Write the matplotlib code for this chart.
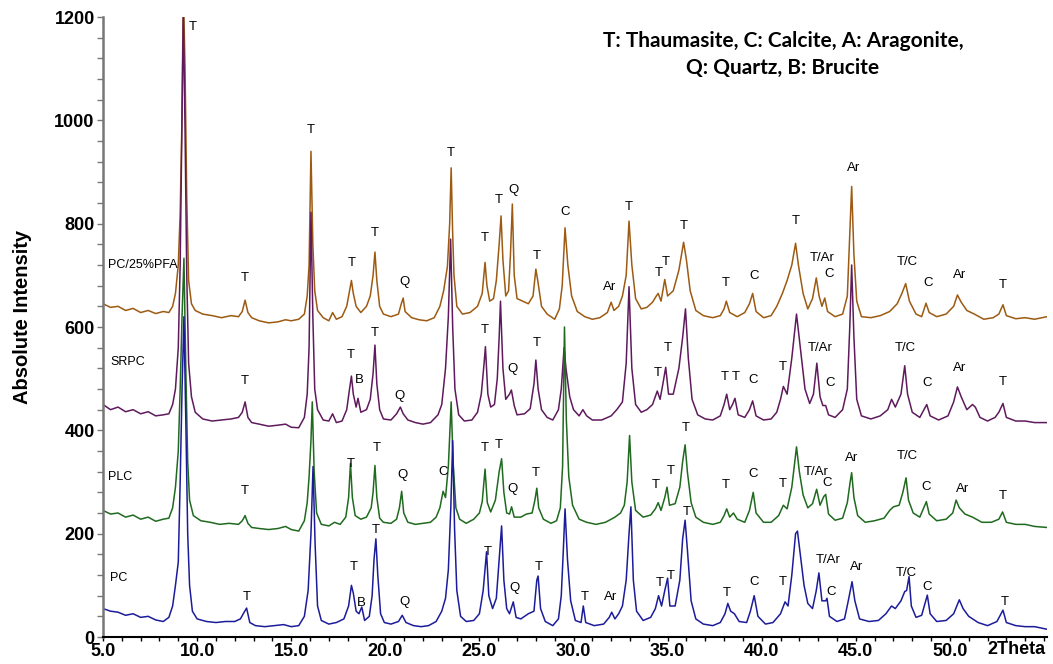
import matplotlib
matplotlib.use("Agg")
import matplotlib.pyplot as plt
from matplotlib.ticker import MultipleLocator, FixedLocator

# --- data (2theta in degrees, absolute counts) ---

PFA_2THETA = [5.0, 5.4, 5.8, 6.2, 6.6, 7.0, 7.4, 7.8, 8.2, 8.5, 8.7, 8.85, 9.0, 9.1, 9.18, 9.27, 9.36, 9.45,
              9.55, 9.7, 9.9, 10.3, 10.8, 11.3, 11.8, 12.2, 12.4, 12.55, 12.7, 12.9, 13.3, 13.8, 14.3, 14.7,
              15.0, 15.4, 15.7, 15.85, 15.95, 16.05, 16.15, 16.25, 16.4, 16.7, 17.0, 17.2, 17.4, 17.7, 17.95,
              18.1, 18.2, 18.3, 18.45, 18.7, 19.0, 19.2, 19.35, 19.45, 19.55, 19.7, 19.9, 20.3, 20.7, 20.85,
              20.95, 21.05, 21.4, 21.8, 22.2, 22.6, 22.9, 23.1, 23.3, 23.42, 23.5, 23.58, 23.65, 23.8, 24.1,
              24.5, 24.9, 25.15, 25.3, 25.4, 25.55, 25.75, 25.9, 26.05, 26.15, 26.25, 26.4, 26.55, 26.65,
              26.75, 26.85, 27.0, 27.3, 27.6, 27.85, 28.0, 28.1, 28.3, 28.6, 29.0, 29.25, 29.4, 29.55, 29.7,
              29.9, 30.2, 30.6, 31.0, 31.4, 31.8, 32.0, 32.15, 32.4, 32.6, 32.8, 32.95, 33.1, 33.3, 33.6,
              33.9, 34.2, 34.4, 34.5, 34.65, 34.85, 35.0, 35.3, 35.6, 35.85, 36.0, 36.2, 36.5, 36.9, 37.4,
              37.8, 38.0, 38.12, 38.3, 38.7, 39.1, 39.35, 39.52, 39.7, 40.1, 40.5, 40.8, 41.1, 41.35, 41.6,
              41.8, 41.95, 42.2, 42.45, 42.7, 42.9, 43.05, 43.2, 43.35, 43.5, 43.9, 44.3, 44.55, 44.7, 44.78,
              44.9, 45.05, 45.3, 45.8, 46.3, 46.8, 47.2, 47.45, 47.65, 47.85, 48.2, 48.5, 48.73, 48.9, 49.3,
              49.8, 50.2, 50.4, 50.6, 50.9, 51.3, 51.8, 52.3, 52.6, 52.82, 53.0, 53.5, 54.0, 54.5, 55.16]
PFA_COUNTS = [645, 638, 640, 632, 636, 628, 632, 626, 630, 628, 640, 665, 720, 820, 970, 1250, 1100, 850,
              690, 645, 632, 625, 622, 618, 622, 620, 630, 652, 628, 618, 612, 608, 610, 614,
              612, 615, 625, 660, 720, 940, 760, 670, 632, 618, 612, 628, 615, 620, 640,
              670, 690, 665, 640, 628, 640, 660, 700, 745, 690, 640, 625, 620, 625, 645,
              656, 630, 618, 614, 612, 618, 640, 670, 717, 800, 908, 780, 700, 640, 625,
              628, 640, 665, 725, 680, 650, 655, 690, 760, 815, 730, 660, 670, 740,
              838, 700, 655, 650, 645, 660, 712, 690, 640, 625, 615, 635, 680, 792, 720,
              660, 630, 620, 615, 618, 628, 648, 632, 640, 660, 700, 805, 720, 655, 635,
              638, 648, 660, 665, 650, 692, 660, 670, 710, 764, 730, 670, 632, 622, 618,
              622, 635, 650, 628, 620, 628, 645, 665, 630, 618, 622, 640, 665, 690, 720,
              762, 720, 665, 635, 655, 695, 660, 640, 656, 630, 620, 625, 660, 800, 872,
              740, 650, 620, 618, 622, 630, 645, 665, 684, 650, 625, 620, 646, 628, 620,
              625, 640, 662, 648, 632, 625, 615, 618, 625, 643, 622, 616, 618, 615, 620]

SRPC_2THETA = [5.0, 5.4, 5.8, 6.2, 6.6, 7.0, 7.4, 7.8, 8.2, 8.5, 8.7, 8.85, 9.0, 9.1, 9.18, 9.27, 9.36, 9.45,
               9.55, 9.7, 9.9, 10.3, 10.8, 11.3, 11.8, 12.2, 12.4, 12.55, 12.7, 12.9, 13.3, 13.8, 14.3, 14.7,
               15.0, 15.4, 15.7, 15.85, 15.95, 16.05, 16.15, 16.25, 16.4, 16.7, 17.0, 17.2, 17.4, 17.7, 17.95,
               18.1, 18.2, 18.3, 18.45, 18.55, 18.7, 19.0, 19.2, 19.35, 19.45, 19.55, 19.7, 19.9, 20.3, 20.6,
               20.8, 20.95, 21.2, 21.6, 22.0, 22.4, 22.8, 23.0, 23.2, 23.35, 23.47, 23.58, 23.7, 23.9, 24.2,
               24.6, 24.9, 25.1, 25.25, 25.32, 25.45, 25.6, 25.8, 25.95, 26.05, 26.12, 26.25, 26.4, 26.6,
               26.7, 26.85, 27.0, 27.4, 27.7, 27.9, 28.0, 28.12, 28.3, 28.6, 28.9, 29.2, 29.35, 29.5, 29.6,
               29.8, 30.0, 30.3, 30.5, 30.7, 31.0, 31.5, 32.0, 32.3, 32.6, 32.8, 32.95, 33.1, 33.3, 33.6,
               33.9, 34.2, 34.45, 34.6, 34.75, 34.9, 35.05, 35.3, 35.6, 35.8, 35.95, 36.1, 36.3, 36.6, 37.0,
               37.4, 37.8, 38.0, 38.14, 38.3, 38.45, 38.58, 38.75, 39.1, 39.35, 39.52, 39.7, 40.1, 40.5,
               40.8, 41.0, 41.15, 41.35, 41.6, 41.85, 42.05, 42.3, 42.55, 42.75, 42.93, 43.1, 43.25, 43.4,
               43.55, 43.9, 44.3, 44.55, 44.68, 44.78, 44.9, 45.05, 45.3, 45.8, 46.3, 46.7, 46.9, 47.1, 47.4,
               47.6, 47.75, 48.0, 48.4, 48.77, 48.95, 49.4, 49.9, 50.2, 50.4, 50.6, 50.9, 51.2, 51.35, 51.6,
               52.0, 52.4, 52.6, 52.82, 53.0, 53.5, 54.0, 54.5, 55.16]
SRPC_COUNTS = [450, 440, 445, 436, 440, 432, 436, 428, 430, 432, 450, 480, 560, 720, 950, 1210, 980, 700,
               530, 465, 435, 422, 418, 420, 422, 425, 435, 455, 425, 415, 412, 408, 410, 412,
               406, 405, 425, 470, 560, 822, 620, 480, 440, 420, 418, 432, 415, 418, 440,
               480, 505, 470, 445, 462, 435, 440, 460, 510, 565, 490, 440, 422, 420, 432,
               445, 432, 420, 415, 412, 415, 430, 450, 520, 620, 770, 600, 480, 430, 418,
               420, 435, 470, 530, 562, 470, 445, 450, 500, 580, 650, 520, 460, 470,
               478, 448, 430, 432, 442, 490, 536, 480, 440, 425, 420, 440, 480, 560, 520,
               465, 440, 428, 440, 428, 420, 420, 428, 440, 455, 530, 678, 520, 450, 435,
               440, 450, 476, 460, 490, 522, 470, 470, 520, 580, 635, 540, 460, 430, 422,
               420, 428, 450, 470, 440, 450, 462, 430, 425, 440, 457, 428, 420, 422,
               435, 460, 485, 470, 540, 625, 560, 480, 452, 470, 530, 465, 448, 448,
               430, 425, 440, 480, 600, 720, 580, 460, 428, 422, 428, 440, 460, 445, 470,
               525, 470, 435, 425, 450, 428, 420, 428, 455, 484, 465, 440, 450, 445, 425,
               418, 425, 435, 452, 425, 418, 418, 415, 415]

PLC_2THETA = [5.0, 5.4, 5.8, 6.2, 6.6, 7.0, 7.4, 7.8, 8.2, 8.5, 8.7, 8.85, 9.0, 9.1, 9.2, 9.3, 9.4, 9.5,
              9.6, 9.8, 10.2, 10.7, 11.2, 11.7, 12.2, 12.4, 12.55, 12.7, 12.9, 13.3, 13.8, 14.3, 14.7,
              15.0, 15.4, 15.7, 15.85, 15.95, 16.05, 16.12, 16.22, 16.35, 16.6, 17.0, 17.3, 17.6, 17.9,
              18.05, 18.15, 18.25, 18.4, 18.7, 19.0, 19.25, 19.35, 19.45, 19.55, 19.7, 19.9, 20.3, 20.6,
              20.75, 20.87, 20.98, 21.2, 21.6, 22.0, 22.4, 22.7, 22.9, 23.07, 23.2, 23.35, 23.5, 23.6,
              23.75, 23.95, 24.3, 24.7, 25.0, 25.15, 25.3, 25.42, 25.6, 25.85, 26.05, 26.18, 26.3, 26.45,
              26.6, 26.71, 26.85, 27.2, 27.5, 27.8, 27.95, 28.05, 28.15, 28.4, 28.8, 29.1, 29.3, 29.42,
              29.52, 29.62, 29.75, 29.95, 30.3, 30.7, 31.2, 31.7, 32.2, 32.5, 32.7, 32.85, 32.98, 33.1,
              33.3, 33.7, 34.1, 34.35, 34.5, 34.65, 34.85, 34.97, 35.1, 35.4, 35.65, 35.8, 35.93, 36.05,
              36.25, 36.5, 36.9, 37.4, 37.8, 38.0, 38.14, 38.3, 38.5, 38.7, 39.1, 39.35, 39.55, 39.7,
              40.1, 40.5, 40.9, 41.15, 41.35, 41.6, 41.85, 42.0, 42.2, 42.45, 42.7, 42.92, 43.1, 43.3,
              43.4, 43.55, 43.9, 44.3, 44.55, 44.7, 44.78, 44.9, 45.1, 45.5, 46.0, 46.5, 46.8, 47.0,
              47.3, 47.5, 47.67, 47.8, 48.05, 48.4, 48.75, 48.9, 49.3, 49.8, 50.15, 50.33, 50.5, 50.8,
              51.2, 51.7, 52.2, 52.6, 52.8, 53.0, 53.5, 54.0, 54.5, 55.16]
PLC_COUNTS = [245, 238, 240, 232, 236, 228, 232, 224, 228, 230, 250, 290, 360, 480, 620, 733, 520, 340,
              265, 235, 225, 222, 218, 220, 218, 225, 235, 220, 212, 210, 208, 210, 214,
              208, 205, 225, 260, 310, 380, 455, 320, 240, 218, 215, 222, 218, 232,
              270, 336, 270, 235, 228, 232, 250, 280, 332, 270, 230, 222, 220, 228,
              250, 282, 240, 222, 218, 220, 222, 232, 250, 282, 270, 330, 455, 340,
              250, 228, 220, 228, 240, 262, 325, 260, 242, 265, 320, 345, 280, 240,
              238, 252, 232, 232, 238, 240, 265, 288, 250, 228, 220, 225, 250, 330,
              600, 420, 310, 255, 228, 222, 218, 222, 232, 240, 255, 300, 390, 300,
              245, 232, 236, 248, 260, 245, 270, 290, 255, 258, 290, 340, 372, 320,
              260, 232, 222, 218, 222, 235, 248, 232, 240, 228, 222, 245, 280, 240,
              222, 222, 235, 255, 248, 290, 368, 320, 275, 250, 258, 286, 255, 272,
              276, 238, 226, 230, 260, 300, 318, 270, 235, 222, 225, 230, 245, 252,
              255, 280, 308, 265, 240, 232, 262, 238, 225, 228, 240, 265, 250, 238,
              232, 222, 222, 228, 242, 222, 218, 218, 214, 212]

PC_2THETA = [5.0, 5.4, 5.8, 6.2, 6.6, 7.0, 7.4, 7.8, 8.2, 8.5, 8.7, 8.85, 9.0, 9.1, 9.2, 9.3, 9.4, 9.5,
             9.6, 9.75, 10.0, 10.5, 11.0, 11.5, 12.0, 12.3, 12.5, 12.63, 12.8, 13.1, 13.6, 14.1, 14.6,
             15.0, 15.4, 15.7, 15.9, 16.05, 16.16, 16.27, 16.4, 16.6, 17.0, 17.4, 17.8, 18.05, 18.2, 18.3,
             18.45, 18.6, 18.75, 18.9, 19.15, 19.3, 19.4, 19.5, 19.6, 19.75, 19.95, 20.3, 20.7, 20.9, 21.1,
             21.5, 21.9, 22.3, 22.7, 23.0, 23.2, 23.35, 23.48, 23.58, 23.68, 23.8, 24.0, 24.3, 24.7, 25.0,
             25.2, 25.38, 25.5, 25.7, 25.9, 26.05, 26.18, 26.3, 26.45, 26.6, 26.8, 26.95, 27.2, 27.6,
             27.9, 28.05, 28.12, 28.25, 28.5, 28.9, 29.2, 29.35, 29.45, 29.55, 29.68, 29.85, 30.1, 30.4,
             30.52, 30.65, 31.1, 31.6, 31.9, 32.03, 32.2, 32.4, 32.6, 32.8, 32.95, 33.05, 33.18, 33.35,
             33.7, 34.1, 34.35, 34.52, 34.68, 34.85, 35.0, 35.12, 35.4, 35.65, 35.8, 35.93, 36.05, 36.25,
             36.5, 36.9, 37.4, 37.8, 38.05, 38.2, 38.35, 38.55, 38.8, 39.2, 39.4, 39.6, 39.8, 40.2, 40.6,
             41.0, 41.24, 41.4, 41.6, 41.8, 41.9, 42.05, 42.25, 42.45, 42.7, 42.9, 43.04, 43.2, 43.4,
             43.47, 43.6, 44.0, 44.4, 44.6, 44.8, 44.95, 45.2, 45.7, 46.2, 46.6, 46.9, 47.1, 47.4, 47.6,
             47.7, 47.83, 47.95, 48.2, 48.5, 48.8, 48.95, 49.3, 49.8, 50.2, 50.5, 50.7, 51.0, 51.5, 52.0,
             52.5, 52.82, 53.0, 53.5, 54.0, 54.5, 55.16]
PC_COUNTS = [55, 50, 48, 42, 45, 38, 40, 33, 30, 38, 60, 100, 145, 300, 480, 620, 420, 200,
             100, 50, 35, 30, 28, 30, 30, 35, 48, 56, 28, 22, 20, 22, 24,
             20, 22, 40, 90, 200, 330, 180, 60, 32, 25, 28, 35, 60, 100, 85,
             50, 45, 58, 32, 40, 80, 150, 190, 120, 45, 28, 25, 30, 42, 28,
             22, 20, 22, 30, 50, 75, 130, 250, 380, 210, 90, 40, 30, 32, 45,
             90, 165, 80, 55, 75, 150, 215, 110, 55, 45, 68, 38, 35, 45,
             50, 110, 118, 55, 30, 22, 35, 80, 160, 248, 150, 70, 32, 28,
             60, 28, 22, 25, 38, 48, 35, 45, 60, 110, 200, 252, 110, 50,
             32, 38, 55, 80, 60, 90, 114, 60, 60, 110, 190, 226, 170, 70,
             35, 25, 22, 28, 45, 65, 50, 45, 30, 28, 50, 80, 40, 25, 28,
             45, 68, 60, 120, 200, 205, 160, 100, 65, 55, 90, 124, 70, 70,
             75, 40, 30, 35, 70, 107, 70, 35, 30, 32, 45, 60, 55, 70, 88,
             90, 117, 60, 38, 42, 81, 45, 30, 32, 45, 72, 55, 40, 28, 22,
             30, 52, 28, 22, 20, 20, 15]

# phase labels: (text, 2theta, counts)
PFA_LABELS = [("T", 9.78, 1181), ("T", 12.55, 695), ("T", 16.05, 981), ("T", 18.23, 724), ("T", 19.45, 782),
              ("Q", 21.0, 687), ("T", 23.49, 937), ("T", 25.3, 772), ("T", 26.04, 846), ("Q", 26.79, 865),
              ("T", 28.06, 737), ("C", 29.55, 823), ("Ar", 31.94, 677), ("T", 32.95, 832), ("T", 34.54, 705),
              ("T", 34.91, 726), ("T", 35.87, 795), ("T", 38.1, 685), ("C", 39.59, 699), ("T", 41.82, 805),
              ("T/Ar", 43.2, 734), ("C", 43.57, 703), ("Ar", 44.9, 908), ("T/C", 47.72, 726),
              ("C", 48.84, 685), ("Ar", 50.54, 701), ("T", 52.82, 681)]
SRPC_LABELS = [("T", 12.55, 495), ("T", 18.18, 546), ("B", 18.6, 497), ("T", 19.45, 588), ("Q", 20.73, 466),
               ("T", 25.3, 594), ("Q", 26.76, 519), ("T", 28.04, 570), ("T", 34.49, 511), ("T", 35.0, 559),
               ("T", 38.05, 504), ("T", 38.63, 504), ("C", 39.52, 497), ("T", 41.11, 523),
               ("T/Ar", 43.1, 559), ("C", 43.63, 491), ("T/C", 47.62, 559), ("C", 48.81, 491),
               ("Ar", 50.54, 520), ("T", 52.8, 494)]
PLC_LABELS = [("T", 12.55, 283), ("T", 18.18, 335), ("T", 19.54, 366), ("Q", 20.92, 314), ("C", 23.07, 320),
              ("T", 25.3, 366), ("T", 26.04, 372), ("Q", 26.76, 286), ("T", 28.0, 318), ("T", 34.38, 294),
              ("T", 35.16, 322), ("T", 35.98, 405), ("T", 38.1, 294), ("C", 39.55, 315), ("T", 41.11, 296),
              ("T/Ar", 42.92, 320), ("C", 43.5, 298), ("Ar", 44.78, 347), ("T/C", 47.76, 350),
              ("C", 48.76, 291), ("Ar", 50.68, 286), ("T", 52.8, 272)]
PC_LABELS = [("T", 12.63, 78), ("T", 18.3, 135), ("B", 18.75, 65), ("T", 19.5, 207), ("Q", 21.0, 68),
             ("T", 25.43, 165), ("Q", 26.89, 94), ("T", 28.13, 136), ("T", 30.58, 78), ("Ar", 31.99, 78),
             ("T", 34.56, 104), ("T", 35.18, 118), ("T", 36.01, 241), ("T", 38.14, 85), ("C", 39.61, 107),
             ("T", 41.11, 107), ("T/Ar", 43.54, 149), ("C", 43.68, 88), ("Ar", 45.04, 135),
             ("T/C", 47.67, 123), ("C", 48.81, 96), ("T", 52.93, 68)]

SAMPLE_NAMES = ["PC/25%PFA", "SRPC", "PLC", "PC"]
SAMPLE_NAME_POS = [(5.27, 720), (5.37, 532), (5.27, 310), (5.37, 114)]

KEY_LINES = ["T: Thaumasite, C: Calcite, A: Aragonite,", "Q: Quartz, B: Brucite"]

X_TICKS = [5, 10, 15, 20, 25, 30, 35, 40, 45, 50]

COLOURS = {"PC/25%PFA": "#9c5a12", "SRPC": "#5e1a5c", "PLC": "#1f6a1f", "PC": "#1c1c9a"}


def plot_xrd(save_path: str = "out.png") -> None:
    fig = plt.figure(figsize=(10.53, 6.64), dpi=100)
    ax = fig.add_axes([103 / 1053, 1 - 637 / 664, 944 / 1053, 620 / 664])

    series = [
        ("PC/25%PFA", PFA_2THETA, PFA_COUNTS, PFA_LABELS),
        ("SRPC", SRPC_2THETA, SRPC_COUNTS, SRPC_LABELS),
        ("PLC", PLC_2THETA, PLC_COUNTS, PLC_LABELS),
        ("PC", PC_2THETA, PC_COUNTS, PC_LABELS),
    ]

    # draw top pattern first so the lower ones sit on top, like the original
    for name, x, y, labels in series:
        ax.plot(x, y, color=COLOURS[name], lw=1.1)
        for text, lx, ly in labels:
            ax.text(lx, ly, text, ha="center", va="center", fontsize=9.5,
                    family="Liberation Sans", color="black")

    for name, (nx, ny) in zip(SAMPLE_NAMES, SAMPLE_NAME_POS):
        ax.text(nx, ny, name, ha="left", va="center", fontsize=9,
                family="Liberation Sans", color="black")

    ax.set_xlim(5, 5 + 944 / 18.82)
    ax.set_ylim(0, 1200)

    ax.xaxis.set_major_locator(FixedLocator(X_TICKS))
    ax.set_xticklabels([f"{t:.1f}" for t in X_TICKS])
    ax.xaxis.set_minor_locator(MultipleLocator(1))
    ax.yaxis.set_major_locator(MultipleLocator(200))
    ax.yaxis.set_minor_locator(MultipleLocator(40))

    for lab in ax.get_xticklabels() + ax.get_yticklabels():
        lab.set_fontfamily("Liberation Sans")
        lab.set_fontweight("bold")
        lab.set_fontsize(13)

    ax.tick_params(axis="x", which="both", direction="out", length=3, width=1, pad=1, colors="black")
    ax.tick_params(axis="y", which="both", direction="out", length=4, width=1, pad=2,
                   color="#777777", labelcolor="black")

    ax.spines["top"].set_visible(False)
    ax.spines["right"].set_visible(False)
    ax.spines["left"].set_color("#777777")
    ax.spines["left"].set_linewidth(1.8)
    ax.spines["bottom"].set_linewidth(1.5)

    ax.set_ylabel("Absolute Intensity", fontsize=14.5, fontweight="bold", family="Liberation Sans")
    ax.yaxis.set_label_coords(-71 / 944, 0.516)

    fig.text(1016 / 1053, 1 - 650 / 664, "2Theta", ha="center", va="center", fontsize=13,
             fontweight="bold", family="Liberation Sans")

    fig.text(783 / 1053, 1 - 41 / 664, KEY_LINES[0], ha="center", va="center", fontsize=15,
             fontweight="bold", family="Lato")
    fig.text(783 / 1053, 1 - 68 / 664, KEY_LINES[1], ha="center", va="center", fontsize=15,
             fontweight="bold", family="Lato")

    fig.savefig(save_path, dpi=100)
    plt.close(fig)


if __name__ == "__main__":
    plot_xrd()
